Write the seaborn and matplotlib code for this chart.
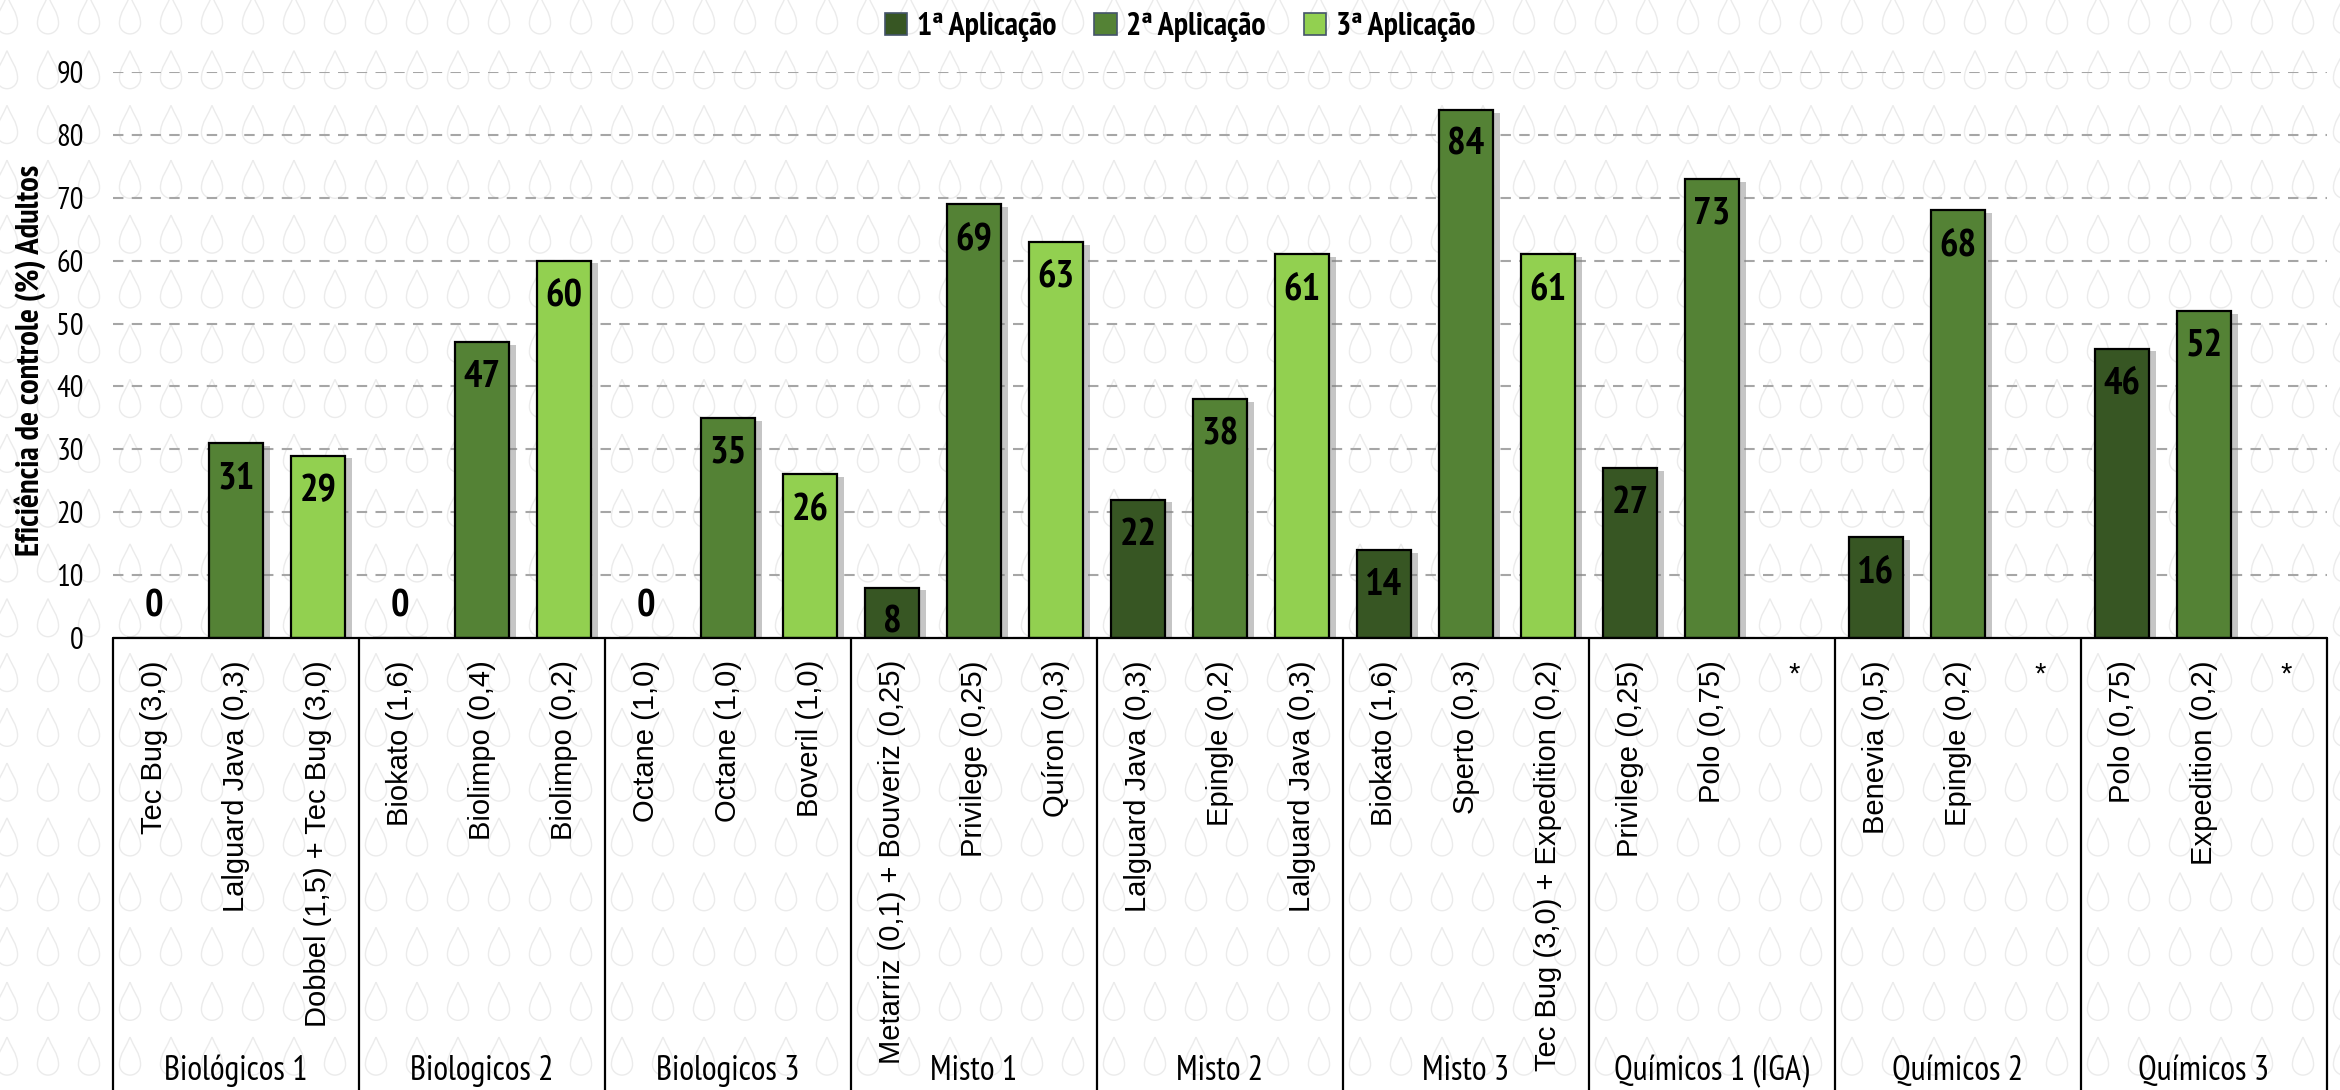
import numpy as np
import pandas as pd
import seaborn as sns
import matplotlib
matplotlib.use("Agg")
import matplotlib.pyplot as plt
from matplotlib.path import Path
from matplotlib.patches import Patch
from matplotlib import patheffects as pe
from matplotlib.transforms import blended_transform_factory
from matplotlib.font_manager import FontProperties
import logging

logging.getLogger("matplotlib.font_manager").setLevel(logging.ERROR)

# ---------------------------------------------------------------- data
groups = ["Biológicos 1", "Biologicos 2", "Biologicos 3", "Misto 1", "Misto 2",
          "Misto 3", "Químicos 1 (IGA)", "Químicos 2", "Químicos 3"]

treat_1a = ["Tec Bug (3,0)", "Biokato (1,6)", "Octane (1,0)",
            "Metarriz (0,1) + Bouveriz (0,25)", "Lalguard Java (0,3)",
            "Biokato (1,6)", "Privilege (0,25)", "Benevia (0,5)", "Polo (0,75)"]
treat_2a = ["Lalguard Java (0,3)", "Biolimpo (0,4)", "Octane (1,0)",
            "Privilege (0,25)", "Epingle (0,2)", "Sperto (0,3)",
            "Polo (0,75)", "Epingle (0,2)", "Expedition (0,2)"]
treat_3a = ["Dobbel (1,5) + Tec Bug (3,0)", "Biolimpo (0,2)", "Boveril (1,0)",
            "Quíron (0,3)", "Lalguard Java (0,3)",
            "Tec Bug (3,0) + Expedition (0,2)", "*", "*", "*"]

eff_1a = [0, 0, 0, 8, 22, 14, 27, 16, 46]
eff_2a = [31, 47, 35, 69, 38, 84, 73, 68, 52]
eff_3a = [29, 60, 26, 63, 61, 61, np.nan, np.nan, np.nan]

applications = ["1ª Aplicação", "2ª Aplicação", "3ª Aplicação"]
app_colors = ["#375623", "#548235", "#92D050"]
y_ticks = [0, 10, 20, 30, 40, 50, 60, 70, 80, 90]

rows = []
for g, grp in enumerate(groups):
    for a, (names, vals) in enumerate(zip([treat_1a, treat_2a, treat_3a],
                                          [eff_1a, eff_2a, eff_3a])):
        rows.append({"slot": f"{g}-{a}", "grupo": grp, "tratamento": names[g],
                     "aplicacao": applications[a], "eficiencia": vals[g]})
df = pd.DataFrame(rows)
slot_order = df["slot"].tolist()
plot_df = df.dropna(subset=["eficiencia"])

# ---------------------------------------------------------------- style
sns.set_theme(style="white")
narrow = ["Liberation Sans Narrow", "Arial Narrow", "PT Sans Narrow",
          "Roboto Condensed", "Archivo Narrow", "Liberation Sans", "DejaVu Sans"]
regular = ["Liberation Sans", "Arimo", "DejaVu Sans"]
plt.rcParams["font.family"] = narrow
for key in ("text.color", "axes.labelcolor", "xtick.color", "ytick.color"):
    plt.rcParams[key] = "black"

W, H = 2340, 1090
fig = plt.figure(figsize=(W / 100, H / 100), dpi=100)
fig.patch.set_facecolor("white")

# droplet texture behind the whole chart
bg = fig.add_axes([0, 0, 1, 1], zorder=0)
bg.set_xlim(0, W)
bg.set_ylim(H, 0)
bg.axis("off")
drop = Path(
    [(0, 1), (0.15, 0.6), (0.5, 0.2), (0.5, -0.3),
     (0.5, -0.576), (0.276, -0.8), (0, -0.8),
     (-0.276, -0.8), (-0.5, -0.576), (-0.5, -0.3),
     (-0.5, 0.2), (-0.15, 0.6), (0, 1)],
    [Path.MOVETO, Path.CURVE4, Path.CURVE4, Path.CURVE4,
     Path.CURVE4, Path.CURVE4, Path.CURVE4,
     Path.CURVE4, Path.CURVE4, Path.CURVE4,
     Path.CURVE4, Path.CURVE4, Path.CURVE4])
gx, gy = np.meshgrid(np.arange(7, W + 30, 41.0), np.arange(17, H + 30, 54.8))
bg.scatter(gx.ravel(), gy.ravel(), marker=drop, s=925, facecolors="none",
           edgecolors="#ebebeb", linewidths=1.0)

# main axes
x0, x1, ytop, ybase = 113, 2327, 72, 638
ax = fig.add_axes([x0 / W, 1 - ybase / H, (x1 - x0) / W, (ybase - ytop) / H], zorder=1)
ax.patch.set_alpha(0)

sns.barplot(data=plot_df, x="slot", y="eficiencia", hue="aplicacao",
            order=slot_order, hue_order=applications, palette=app_colors,
            dodge=False, width=0.66, edgecolor="black", linewidth=1.6,
            errorbar=None, legend=False, saturation=1, ax=ax, zorder=3)

for bar in ax.patches:
    bar.set_path_effects([pe.SimplePatchShadow(offset=(5, -2), shadow_rgbFace="#808080",
                                               alpha=0.45), pe.Normal()])

ax.set_xlim(-0.5, len(slot_order) - 0.5)
ax.set_ylim(0, 90)
ax.set_yticks(y_ticks)
ax.set_yticklabels([str(t) for t in y_ticks], fontsize=22, family=narrow)
ax.yaxis.grid(True, linestyle=(0, (5, 4)), color="#a6a6a6", linewidth=1.5, zorder=0)
ax.xaxis.grid(False)
for s in ax.spines.values():
    s.set_visible(False)
ax.axhline(0, color="black", linewidth=1.6, zorder=4, clip_on=False)
ax.tick_params(axis="y", length=0, pad=21)
ax.tick_params(axis="x", length=0, pad=16)
ax.set_xlabel("")
ax.set_ylabel("")

# treatment labels under each bar
ax.set_xticks(range(len(slot_order)))
ax.set_xticklabels(df["tratamento"], rotation=90, fontsize=21, va="top", ha="center",
                   family=regular)
for lbl in ax.get_xticklabels():
    if lbl.get_text() == "*":
        lbl.set_rotation(0)

# value labels
for i, row in df.iterrows():
    v = row["eficiencia"]
    if pd.isna(v):
        continue
    if v == 0:
        ax.annotate(f"{v:.0f}", (i, v), xytext=(0, 10), textcoords="offset points",
                    ha="center", va="bottom", fontsize=28, fontweight="bold",
                    family=narrow, zorder=6)
    else:
        ax.annotate(f"{v:.0f}", (i, v), xytext=(0, -13), textcoords="offset points",
                    ha="center", va="top", fontsize=28, fontweight="bold",
                    family=narrow, zorder=6)

# group separators and names
trans = blended_transform_factory(ax.transData, ax.transAxes)
bottom = -(H - ybase) / (ybase - ytop) - 0.02
for g in range(len(groups) + 1):
    xs = g * 3 - 0.5
    ax.plot([xs, xs], [0, bottom], transform=trans, color="black",
            linewidth=1.6, clip_on=False, zorder=4)
label_y = -(1071 - ybase) / (ybase - ytop)
for g, grp in enumerate(groups):
    ax.text(g * 3 + 1, label_y, grp, transform=trans, ha="center", va="center",
            fontsize=24.5, family=narrow)

# axis title
fig.text(30 / W, 1 - 360 / H, "Eficiência de controle (%) Adultos", rotation=90,
         ha="center", va="center", fontsize=23.5, fontweight="bold", family=narrow)

# legend
handles = [Patch(facecolor=c, edgecolor="#44546a", linewidth=1.2, label=a)
           for a, c in zip(applications, app_colors)]
fig.legend(handles=handles, loc="center", bbox_to_anchor=(1180 / W, 1 - 27 / H),
           ncol=3, frameon=False,
           prop=FontProperties(family=narrow, weight="bold", size=23),
           handlelength=0.7, handleheight=0.7, handletextpad=0.3, columnspacing=1.2)

fig.savefig("out.png", dpi=100, facecolor="white")
